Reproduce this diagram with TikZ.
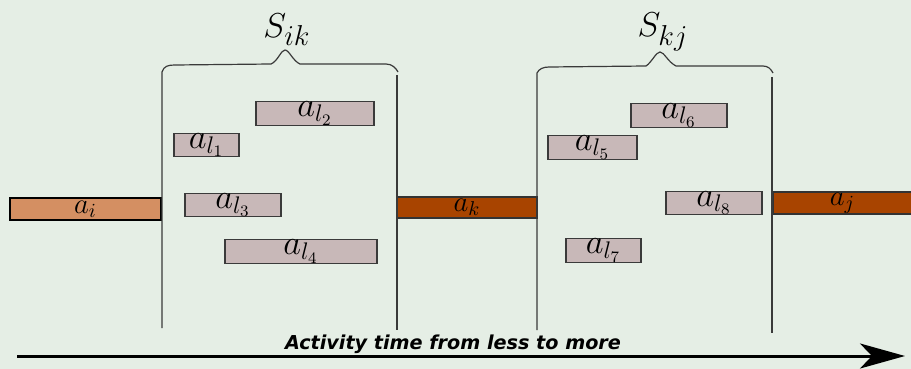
\documentclass[tikz,border=0pt]{standalone}
\usepackage{fontspec}
\newfontfamily\capfont{DejaVu Sans}
\usetikzlibrary{arrows.meta}
\definecolor{bgc}{HTML}{E5EEE5}
\definecolor{pinkc}{HTML}{C8B8B8}
\definecolor{orangec}{HTML}{D48F62}
\definecolor{darkc}{HTML}{A84400}
\definecolor{linec}{HTML}{3A3A3A}
\tikzset{
  abox/.style={draw=linec, line width=0.6pt, inner sep=0pt, outer sep=0pt, font=\fontsize{17}{19}\selectfont},
  pbox/.style={abox, fill=pinkc},
  obox/.style={abox, draw=black, fill=orangec, font=\fontsize{14}{16}\selectfont},
  dbox/.style={abox, draw=black!80, fill=darkc, font=\fontsize{14}{16}\selectfont},
  brace/.style={draw=linec, line width=0.6pt},
  slabel/.style={font=\fontsize{19}{21}\selectfont, inner sep=0pt},
}
\begin{document}
\begin{tikzpicture}[x=0.5pt, y=-0.5pt]
\fill[bgc] (0,0) rectangle (911,369);
\useasboundingbox (0,0) rectangle (911,369);
% activities
\node[obox, minimum width=75.5pt, minimum height=11pt] (ai) at (85.5,209) {$a_i$};
\node[dbox, minimum width=70pt, minimum height=10.5pt] (ak) at (467,207.5) {$a_k$};
\node[dbox, minimum width=69.5pt, minimum height=11pt] (aj) at (842.5,203) {$a_j$};
\node[pbox, minimum width=59pt, minimum height=11.5pt] (l2) at (315,113.5) {$a_{l_2}$};
\node[pbox, minimum width=32.5pt, minimum height=11pt] (l1) at (206.5,145) {$a_{l_1}$};
\node[pbox, minimum width=48pt, minimum height=11pt] (l3) at (233,205) {$a_{l_3}$};
\node[pbox, minimum width=76pt, minimum height=11.5pt] (l4) at (301,251.5) {$a_{l_4}$};
\node[pbox, minimum width=48pt, minimum height=11.5pt] (l6) at (679,115.5) {$a_{l_6}$};
\node[pbox, minimum width=44.5pt, minimum height=11.5pt] (l5) at (592.5,147.5) {$a_{l_5}$};
\node[pbox, minimum width=48pt, minimum height=11pt] (l8) at (714,203) {$a_{l_8}$};
\node[pbox, minimum width=37.5pt, minimum height=11.5pt] (l7) at (603.5,250.5) {$a_{l_7}$};
% braces
\draw[brace] (162,328) -- (162,72) .. controls (164,66) and (168,65) .. (175,65) -- (271,64)
  .. controls (278,61) and (281,50) .. (285,50) .. controls (289,50) and (293,61) .. (300,64)
  -- (386,64) .. controls (392,64) and (396,68) .. (398,72);
\draw[brace] (397,75) -- (397,330);
\draw[brace] (537,330) -- (537,73) .. controls (539,69) and (543,67) .. (549,67) -- (646,66)
  .. controls (652,62) and (656,52) .. (660,52) .. controls (664,52) and (668,62) .. (676,66)
  -- (763,66) .. controls (768,66) and (771,69) .. (773,73);
\draw[brace] (772,77) -- (772,333);
\node[slabel] (sik) at (287,30) {$S_{ik}$};
\node[slabel] (skj) at (663,32) {$S_{kj}$};
% time axis
\coordinate (ts) at (17,356);
\coordinate (te) at (905,356);
\draw[line width=1.5pt, -{Stealth[length=22.5pt, width=12.5pt, inset=6pt]}] (ts) -- (te);
\node[font=\capfont\bfseries\itshape\fontsize{9.6}{11}\selectfont, inner sep=0pt] (cap) at (453,344) {Activity time from less to more};
\end{tikzpicture}
\end{document}
